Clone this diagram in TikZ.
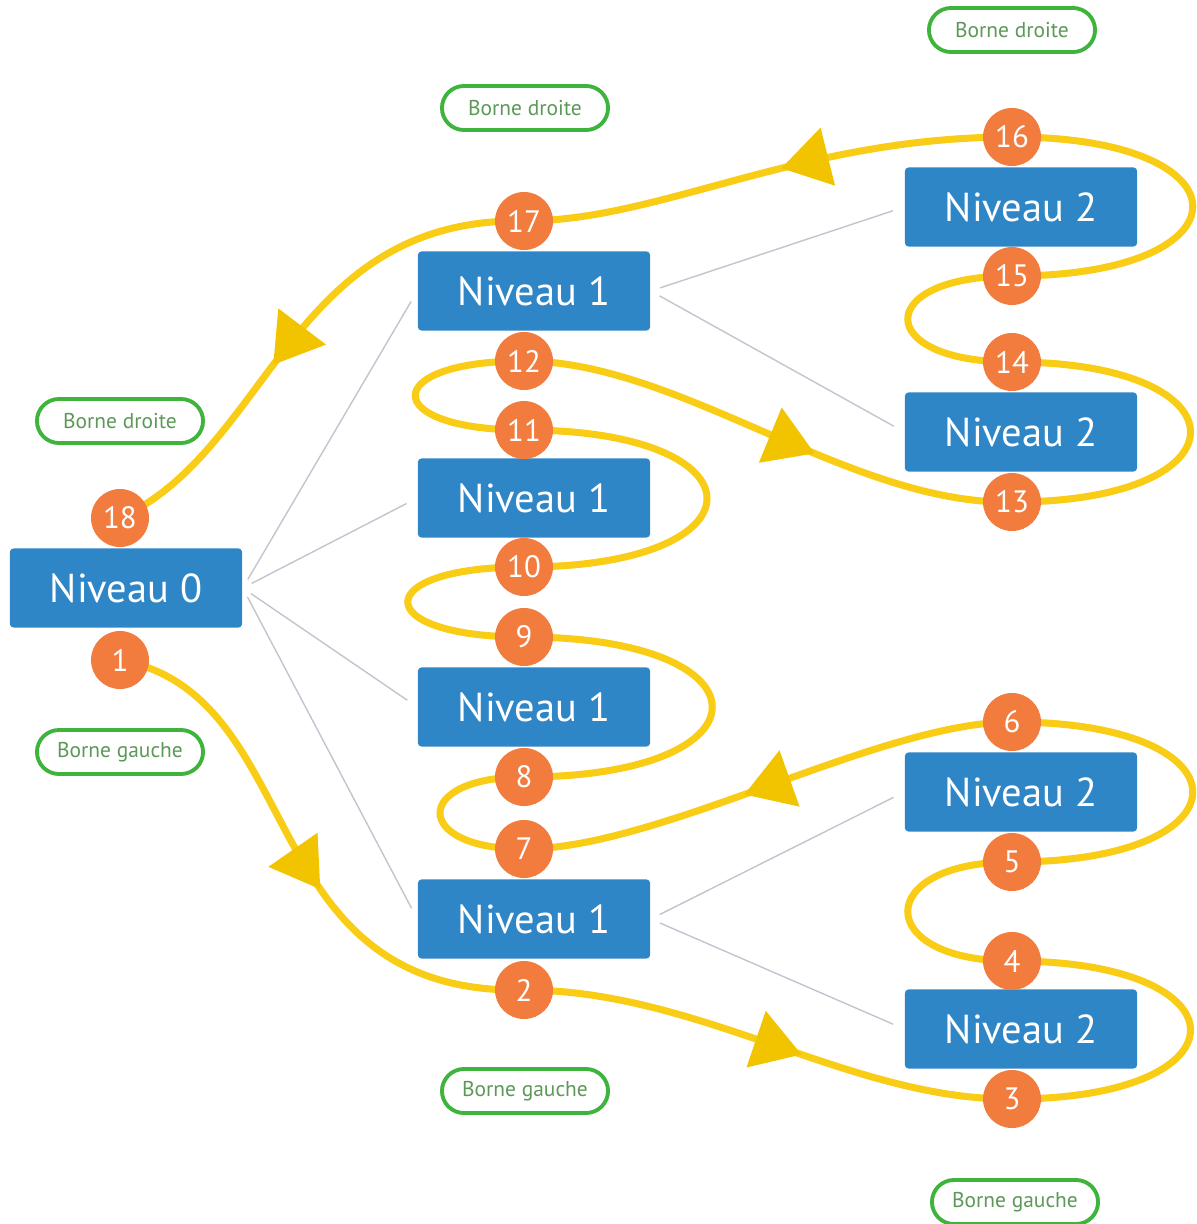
\documentclass[tikz,border=0pt]{standalone}
\usepackage{fontspec}
\setmainfont{PT Sans}
\usetikzlibrary{arrows.meta,decorations.markings,backgrounds}

\definecolor{levelblue}{RGB}{47,134,199}
\definecolor{steporange}{RGB}{242,123,62}
\definecolor{touryellow}{RGB}{249,204,22}
\definecolor{tipyellow}{RGB}{242,196,0}
\definecolor{boundgreen}{RGB}{62,180,60}
\definecolor{boundtext}{RGB}{92,152,88}
\definecolor{linkgray}{RGB}{192,197,207}

\begin{document}
\begin{tikzpicture}[x=0.01cm,y=-0.01cm,
    level node/.style={rectangle,rounded corners=1pt,fill=levelblue,text=white,minimum width=2.32cm,minimum height=0.79cm,inner sep=0pt,font=\fontsize{11.5}{13}\selectfont},
    step node/.style={circle,fill=steporange,text=white,minimum size=0.58cm,inner sep=0pt,font=\fontsize{8.8}{10}\selectfont},
    bound node/.style={rectangle,rounded corners=0.22cm,draw=boundgreen,line width=1.1pt,text=boundtext,minimum width=1.66cm,minimum height=0.44cm,inner sep=0pt,font=\fontsize{6.1}{7}\selectfont},
    link/.style={draw=linkgray,line width=0.4pt,shorten <=0.1cm,shorten >=0.12cm},
    tour/.style={draw=touryellow,line width=2pt},
    tip at/.style={postaction={decorate,decoration={markings,mark=at position #1 with {\arrow{Triangle[length=0.48cm,width=0.58cm,color=tipyellow]}}}}}]
    \useasboundingbox (0,0) rectangle (1197,1224);

    % levels
    \node[level node] (n0) at (126,588) {Niveau 0};
    \node[level node] (n1a) at (534,291) {Niveau 1};
    \node[level node] (n1b) at (534,498) {Niveau 1};
    \node[level node] (n1c) at (534,707) {Niveau 1};
    \node[level node] (n1d) at (534,919) {Niveau 1};
    \node[level node] (n2a) at (1021,207) {Niveau 2};
    \node[level node] (n2b) at (1021,432) {Niveau 2};
    \node[level node] (n2c) at (1021,792) {Niveau 2};
    \node[level node] (n2d) at (1021,1029) {Niveau 2};

    % steps of the tour
    \node[step node] (1) at (120,660) {1};
    \node[step node] (2) at (524,990) {2};
    \node[step node] (3) at (1012,1099) {3};
    \node[step node] (4) at (1012,961) {4};
    \node[step node] (5) at (1012,862) {5};
    \node[step node] (6) at (1012,722) {6};
    \node[step node] (7) at (524,849) {7};
    \node[step node] (8) at (524,777) {8};
    \node[step node] (9) at (524,637) {9};
    \node[step node] (10) at (524,567) {10};
    \node[step node] (11) at (524,430) {11};
    \node[step node] (12) at (524,361) {12};
    \node[step node] (13) at (1012,502) {13};
    \node[step node] (14) at (1012,362) {14};
    \node[step node] (15) at (1012,276) {15};
    \node[step node] (16) at (1012,137) {16};
    \node[step node] (17) at (524,221) {17};
    \node[step node] (18) at (120,518) {18};

    % bounds
    \node[bound node] (bd0) at (120,421) {Borne droite};
    \node[bound node] (bg0) at (120,752) {Borne gauche};
    \node[bound node] (bd1) at (525,108) {Borne droite};
    \node[bound node] (bg1) at (525,1091) {Borne gauche};
    \node[bound node] (bd2) at (1012,30) {Borne droite};
    \node[bound node] (bg2) at (1015,1202) {Borne gauche};

    \begin{pgfonlayer}{background}
    \path (n0.east) edge[link] (n1a.west)
          (n0.east) edge[link] (n1b.west)
          (n0.east) edge[link] (n1c.west)
          (n0.east) edge[link] (n1d.west)
          (n1a.east) edge[link] (n2a.west)
          (n1a.east) edge[link] (n2b.west)
          (n1d.east) edge[link] (n2c.west)
          (n1d.east) edge[link] (n2d.west)
    ;
    % the tour, from 1 to 18
    \draw[tour,tip at=0.57] (1.center) .. controls (310,695) and (250,995) .. (2.center);
    \draw[tour,tip at=0.57] (2.center) .. controls (700,990) and (850,1100) .. (3.center);
    \draw[tour] (3.center) .. controls (1250,1099) and (1250,961) .. (4.center);
    \draw[tour] (4.center) .. controls (873,961) and (873,862) .. (5.center);
    \draw[tour] (5.center) .. controls (1253,862) and (1253,722) .. (6.center);
    \draw[tour,tip at=0.55] (6.center) .. controls (880,722) and (660,849) .. (7.center);
    \draw[tour] (7.center) .. controls (412,849) and (412,777) .. (8.center);
    \draw[tour] (8.center) .. controls (775,777) and (775,637) .. (9.center);
    \draw[tour] (9.center) .. controls (369,637) and (369,567) .. (10.center);
    \draw[tour] (10.center) .. controls (768,567) and (768,430) .. (11.center);
    \draw[tour] (11.center) .. controls (379,430) and (379,361) .. (12.center);
    \draw[tour,tip at=0.6] (12.center) .. controls (680,361) and (850,505) .. (13.center);
    \draw[tour] (13.center) .. controls (1250,502) and (1250,362) .. (14.center);
    \draw[tour] (14.center) .. controls (873,362) and (873,276) .. (15.center);
    \draw[tour] (15.center) .. controls (1253,276) and (1253,137) .. (16.center);
    \draw[tour,tip at=0.47] (16.center) .. controls (800,137) and (661,221) .. (17.center);
    \draw[tour,tip at=0.58] (17.center) .. controls (290,217) and (270,450) .. (18.center);
    \end{pgfonlayer}
\end{tikzpicture}
\end{document}
